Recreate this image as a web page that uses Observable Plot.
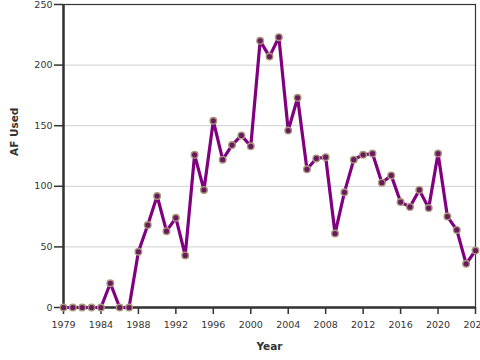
<!DOCTYPE html>
<html><head><meta charset="utf-8">
<script src="https://cdn.jsdelivr.net/npm/d3@7"></script>
<script src="https://cdn.jsdelivr.net/npm/@observablehq/plot@0.6"></script>
<style>html,body{margin:0;padding:0;background:#fff;} svg{font-family:"DejaVu Sans",sans-serif;}</style>
</head><body><div id="chart"></div>
<script>
const years = [1980,1981,1982,1983,1984,1985,1986,1987,1988,1989,1990,1991,1992,1993,1994,1995,1996,1997,1998,1999,2000,2001,2002,2003,2004,2005,2006,2007,2008,2009,2010,2011,2012,2013,2014,2015,2016,2017,2018,2019,2020,2021,2022,2023,2024];
const afUsed = [0,0,0,0,0,20,0,0,46,68,92,63,74,43,126,97,154,122,134,142,133,220,207,223,146,173,114,123,124,61,95,122,126,127,103,109,87,83,97,82,127,75,64,36,47];
const xTicks = [1980,1984,1988,1992,1996,2000,2004,2008,2012,2016,2020,2024];
const xTickLabels = ["1979","1984","1988","1992","1996","2000","2004","2008","2012","2016","2020","2024"];
const yTicks = [0,50,100,150,200,250];
const xLabel = "Year";
const yLabel = "AF Used";

const data = years.map((y, i) => ({year: y, af: afUsed[i]}));
const labelMap = new Map(xTicks.map((t, i) => [t, xTickLabels[i]]));

const plot = Plot.plot({
  width: 480, height: 360,
  marginLeft: 63, marginRight: 5, marginTop: 4, marginBottom: 53,
  style: {fontFamily: "DejaVu Sans", fontSize: "9.5px", color: "#333", background: "#fff", overflow: "visible"},
  x: {domain: [1980, 2024]},
  y: {domain: [0, 250]},
  marks: [
    Plot.gridY(yTicks, {stroke: "#d0d0d0", strokeOpacity: 1}),
    Plot.axisX(xTicks, {tickFormat: d => labelMap.get(d), tickSize: 7, tickPadding: 7, label: null, stroke: "#333", strokeWidth: 1.5, fontSize: 9.5}),
    Plot.axisY(yTicks, {tickSize: 9, tickPadding: 2, label: null, stroke: "#333", strokeWidth: 1.5, fontSize: 9.5}),
    Plot.frame({stroke: "#333", strokeWidth: 1.2}),
    Plot.ruleY([0], {stroke: "#333", strokeWidth: 2.5}),
    Plot.ruleX([1980], {stroke: "#333", strokeWidth: 2.5}),
    Plot.line(data, {x: "year", y: "af", stroke: "#800080", strokeWidth: 3.2}),
    Plot.dot(data, {x: "year", y: "af", r: 3.3, fill: "#6b1860", stroke: "#a89a78", strokeWidth: 1.4}),
    Plot.text([xLabel], {frameAnchor: "bottom", dy: 42, fontWeight: "bold", fontSize: 10.5, fill: "#333"}),
    Plot.text([yLabel], {frameAnchor: "left", dx: -49, rotate: -90, fontWeight: "bold", fontSize: 10.5, fill: "#333"})
  ]
});
document.getElementById("chart").appendChild(plot);
</script>
</body></html>
